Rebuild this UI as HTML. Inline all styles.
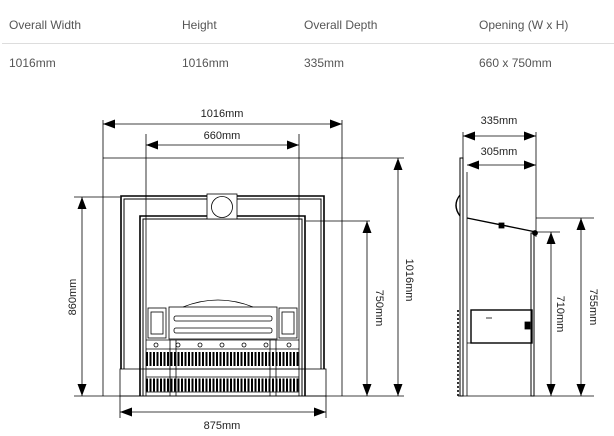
<!DOCTYPE html>
<html><head><meta charset="utf-8"><style>
body{margin:0;background:#fff;width:614px;height:436px;overflow:hidden;font-family:"Liberation Sans",sans-serif}
.h{position:absolute;font-size:12px;color:#555}
</style></head><body>
<div class="h" style="left:9px;top:18px">Overall Width</div>
<div class="h" style="left:182px;top:18px">Height</div>
<div class="h" style="left:304px;top:18px">Overall Depth</div>
<div class="h" style="left:479px;top:18px">Opening (W x H)</div>
<div style="position:absolute;left:2px;top:43px;width:612px;height:1px;background:#ddd"></div>
<div class="h" style="left:9px;top:56px">1016mm</div>
<div class="h" style="left:182px;top:56px">1016mm</div>
<div class="h" style="left:304px;top:56px">335mm</div>
<div class="h" style="left:479px;top:56px">660 x 750mm</div>
<svg width="614" height="436" style="position:absolute;left:0;top:0" font-family="Liberation Sans,sans-serif" font-size="11">
<defs>
<marker id="a" markerWidth="12" markerHeight="9" refX="12" refY="4.5" orient="auto-start-reverse" markerUnits="userSpaceOnUse"><path d="M0,0L12,4.5L0,9z" fill="#000"/></marker>
</defs>
<g stroke="#000" stroke-width="0.8" fill="none">
<line x1="103" y1="120" x2="103" y2="396"/>
<line x1="342" y1="120" x2="342" y2="396"/>
<line x1="146" y1="134" x2="146" y2="396"/>
<line x1="299" y1="134" x2="299" y2="396"/>
<line x1="103" y1="158" x2="404" y2="158"/>
<line x1="74" y1="197" x2="120" y2="197"/>
<line x1="306" y1="221" x2="370" y2="221"/>
<line x1="74" y1="396" x2="404" y2="396"/>
<line x1="120" y1="396" x2="120" y2="418"/>
<line x1="326" y1="396" x2="326" y2="418"/>
<line x1="103" y1="124" x2="342" y2="124" marker-start="url(#a)" marker-end="url(#a)"/>
<line x1="146" y1="145" x2="299" y2="145" marker-start="url(#a)" marker-end="url(#a)"/>
<line x1="82" y1="197" x2="82" y2="396" marker-start="url(#a)" marker-end="url(#a)"/>
<line x1="367" y1="221" x2="367" y2="396" marker-start="url(#a)" marker-end="url(#a)"/>
<line x1="398" y1="158" x2="398" y2="396" marker-start="url(#a)" marker-end="url(#a)"/>
<line x1="120" y1="412" x2="326" y2="412" marker-start="url(#a)" marker-end="url(#a)"/>
<path d="M121,369V196H324V369" stroke-width="1.6"/>
<path d="M124,369V199H321V369" stroke-width="1"/>
<path d="M140,396V216H305V396" stroke-width="1.6"/>
<path d="M143,396V219H302V396" stroke-width="1"/>
<rect x="120" y="369" width="206" height="27"/>
<rect x="207" y="194" width="30" height="25" fill="#fff"/>
<circle cx="222" cy="207" r="10.5"/>
<path d="M183,307Q218,293 253,307"/>
<rect x="148" y="308" width="18" height="30"/>
<rect x="151" y="312" width="12" height="22"/>
<rect x="279" y="308" width="18" height="30"/>
<rect x="282" y="312" width="12" height="22"/>
<rect x="169" y="307" width="108" height="32"/>
<rect x="174" y="316" width="98" height="5" rx="2"/>
<rect x="174" y="328" width="98" height="5" rx="2"/>
<line x1="146" y1="340" x2="299" y2="340"/>
<line x1="146" y1="349" x2="299" y2="349"/>
<line x1="146" y1="369" x2="299" y2="369"/>
<line x1="146" y1="377" x2="299" y2="377"/>
<line x1="146" y1="392" x2="299" y2="392"/>
<line x1="146" y1="359" x2="299" y2="359" stroke-width="14" stroke-dasharray="2 1.5"/>
<line x1="146" y1="385" x2="299" y2="385" stroke-width="13" stroke-dasharray="2 1.5"/>
<line x1="170" y1="340" x2="170" y2="396"/>
<line x1="176" y1="340" x2="176" y2="396"/>
<line x1="270" y1="340" x2="270" y2="396"/>
<line x1="276" y1="340" x2="276" y2="396"/>
<g fill="#fff"><circle cx="156" cy="345" r="2"/><circle cx="178" cy="345" r="2"/><circle cx="200" cy="345" r="2"/><circle cx="222" cy="345" r="2"/><circle cx="244" cy="345" r="2"/><circle cx="266" cy="345" r="2"/><circle cx="289" cy="345" r="2"/></g>
<line x1="463" y1="132" x2="463" y2="160"/>
<line x1="536" y1="132" x2="536" y2="237"/>
<line x1="536" y1="218" x2="594" y2="218"/>
<line x1="536" y1="232" x2="560" y2="232"/>
<line x1="458" y1="396" x2="594" y2="396"/>
<line x1="463" y1="136" x2="536" y2="136" marker-start="url(#a)" marker-end="url(#a)"/>
<line x1="467" y1="165" x2="536" y2="165" marker-start="url(#a)" marker-end="url(#a)"/>
<line x1="551" y1="232" x2="551" y2="396" marker-start="url(#a)" marker-end="url(#a)"/>
<line x1="581" y1="218" x2="581" y2="396" marker-start="url(#a)" marker-end="url(#a)"/>
<rect x="460" y="158" width="3" height="238" stroke-width="1"/>
<line x1="467" y1="172" x2="467" y2="396"/>
<path d="M460,195Q452,205 460,216" stroke-width="1.4"/>
<line x1="467" y1="218" x2="536" y2="232" stroke-width="1.4"/>
<rect x="499" y="223" width="5" height="5" fill="#000"/>
<circle cx="535" cy="233" r="2.5" fill="#000"/>
<rect x="531" y="233" width="3" height="163" stroke-width="1"/>
<rect x="471" y="310" width="61" height="33" stroke-width="1.4"/>
<line x1="486" y1="318" x2="492" y2="318"/>
<rect x="525" y="322" width="5" height="7" fill="#000"/>
<line x1="467" y1="343" x2="532" y2="343"/>
<line x1="458" y1="310" x2="458" y2="396" stroke-width="1.6" stroke-dasharray="2 2"/>
</g>
<g fill="#222" text-anchor="middle">
<text x="222" y="117">1016mm</text>
<text x="222" y="139">660mm</text>
<text x="222" y="429">875mm</text>
<text x="499" y="124">335mm</text>
<text x="499" y="155">305mm</text>
<text transform="translate(76,297) rotate(-90)">860mm</text>
<text transform="translate(376,308) rotate(90)">750mm</text>
<text transform="translate(406,280) rotate(90)">1016mm</text>
<text transform="translate(557,314) rotate(90)">710mm</text>
<text transform="translate(590,307) rotate(90)">755mm</text>
</g>
</svg>
</body></html>
